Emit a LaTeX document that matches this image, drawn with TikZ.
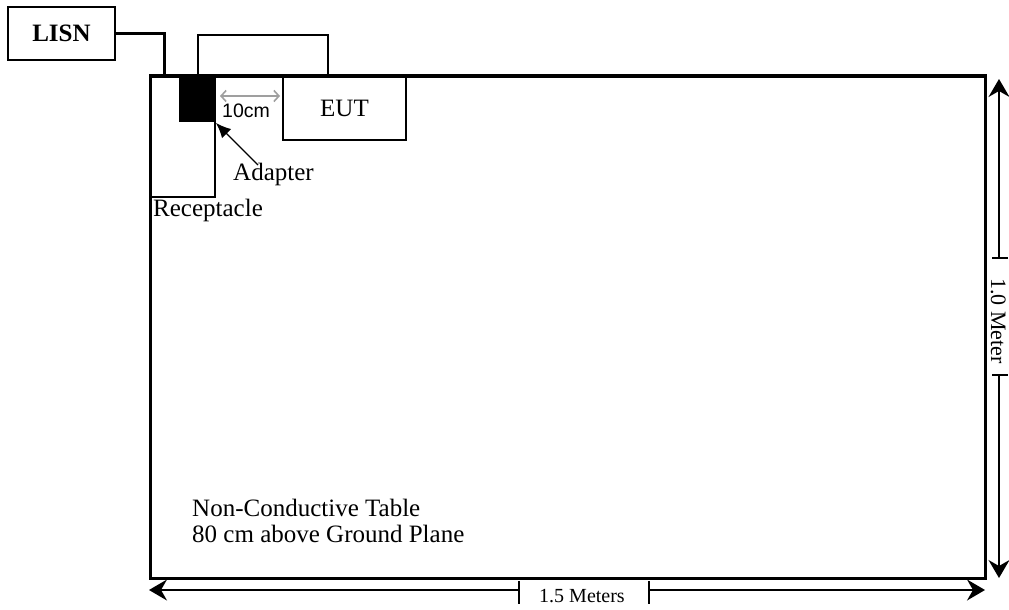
\documentclass[tikz,border=0pt]{standalone}
\usepackage{fontspec}
\setmainfont{Liberation Serif}
\newfontfamily\arialf{Liberation Sans}
\usetikzlibrary{arrows.meta}
\tikzset{bighead/.tip={Stealth[length=18pt,width=21pt,inset=6pt]}}
\begin{document}
\begin{tikzpicture}[x=1pt,y=-1pt,
  heavy/.style={line width=3pt},
  boxline/.style={line width=2pt},
  dimline/.style={line width=1.4pt},
  lbl/.style={inner sep=0pt,font=\fontsize{25}{30}\selectfont},
  small/.style={inner sep=0pt,font=\fontsize{20}{24}\selectfont}]
\useasboundingbox (0,0) rectangle (1009,610);
\fill[white] (0,0) rectangle (1009,610);
% table
\draw[heavy] (150,76) rectangle (985,578);
% LISN
\node[draw,boxline,minimum width=107pt,minimum height=53pt,inner sep=0pt,
      font=\fontsize{25}{30}\selectfont\bfseries] (lisn) at (61.5,33.5) {LISN};
\coordinate (bend) at (164,33.5);
\coordinate (entry) at (164,76);
\draw[heavy] (lisn.east) -- (bend) -- (entry);
% cable loop box above EUT
\draw[boxline] (198,76) -- (198,35) -- (328,35) -- (328,76);
% receptacle and adapter
\draw[boxline] (150,76) rectangle (215,197);
\fill[black] (179,77) rectangle (215,122);
\coordinate (adcorner) at (216,123);
% EUT
\node[draw,boxline,minimum width=123pt,minimum height=63pt,inner sep=0pt,
      font=\fontsize{25}{30}\selectfont] (eut) at (344.5,108.5) {EUT};
% 10 cm gray arrow
\coordinate (ga) at (220,96);
\coordinate (gb) at (280,96);
\draw[gray!75,line width=1.6pt,{Straight Barb[length=5pt,width=11pt]}-{Straight Barb[length=5pt,width=11pt]}] (ga) -- (gb);
\node[inner sep=0pt,anchor=base west,font=\fontsize{19.5}{22}\selectfont\arialf] (tencm) at (222,117) {10cm};
% labels
\node[lbl,anchor=base west] (adapter) at (233,180) {Adapter};
\coordinate (adtail) at (258,165);
\draw[line width=1.3pt,-{Latex[length=15pt,width=13pt]}] (adtail) -- (adcorner);
\node[lbl,anchor=base west] (recept) at (153,216) {Receptacle};
\node[lbl,anchor=base west] (t1) at (192,516) {Non-Conductive Table};
\node[lbl,anchor=base west] (t2) at (192,542) {80 cm above Ground Plane};
% vertical dimension
\coordinate (vt) at (999,79);
\coordinate (vb) at (999,578);
\coordinate (vk1) at (999,258);
\coordinate (vk2) at (999,375);
\draw[dimline] (992,258) -- (1008,258);
\draw[dimline] (992,375) -- (1008,375);
\draw[dimline,{bighead}-] (vt) -- (vk1);
\draw[dimline,-{bighead}] (vk2) -- (vb);
\node[inner sep=0pt,font=\fontsize{22}{26}\selectfont,anchor=base,rotate=-90] (vlab) at (991,321) {1.0 Meter};
% horizontal dimension
\coordinate (hl) at (149,590);
\coordinate (hr) at (985,590);
\coordinate (hk1) at (519,590);
\coordinate (hk2) at (649,590);
\draw[dimline] (519,581) -- (519,604);
\draw[dimline] (649,581) -- (649,604);
\draw[dimline,{bighead}-] (hl) -- (hk1);
\draw[dimline,-{bighead}] (hk2) -- (hr);
\node[small,anchor=base] (hlab) at (582,602) {1.5 Meters};
\end{tikzpicture}
\end{document}
